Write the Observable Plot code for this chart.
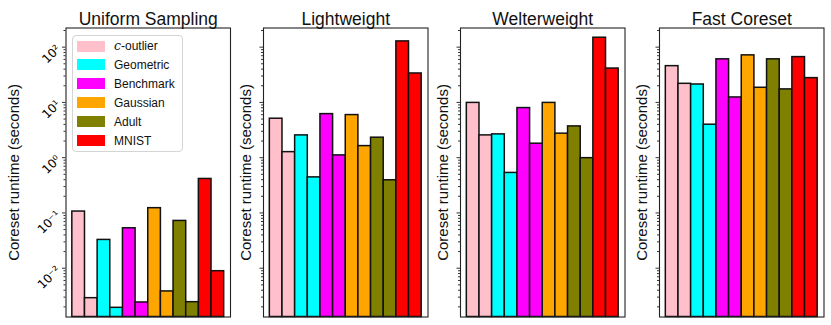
<!DOCTYPE html>
<html><head><meta charset="utf-8">
<script src="https://cdn.jsdelivr.net/npm/d3@7"></script>
<script src="https://cdn.jsdelivr.net/npm/@observablehq/plot@0.6"></script>
<style>
body{margin:0;background:#fff;font-family:"Liberation Sans",Arial,sans-serif}
#wrap{position:relative;width:831px;height:325px;overflow:hidden;background:#fff}
#wrap svg{position:absolute;top:0;background:transparent;overflow:visible}
.legend{position:absolute;left:71.5px;top:35px;width:111px;height:117px;border:1px solid #d4d4d4;border-radius:4px;background:rgba(255,255,255,0.85);box-sizing:border-box;font-size:12px;color:#111}
.legend .sw{position:absolute;left:4px;width:28px;height:11px}
.legend .lb{position:absolute;left:41.5px;line-height:14px}
.legend i{font-family:"DejaVu Serif","Liberation Serif",serif;font-size:12.5px}
.majors text{font-family:"DejaVu Sans",sans-serif}
</style></head>
<body>
<div id="wrap"></div>
<script>
// ---- data ----
const methods = ["Uniform Sampling", "Lightweight", "Welterweight", "Fast Coreset"];
const datasets = ["c-outlier", "Geometric", "Benchmark", "Gaussian", "Adult", "MNIST"];
const colors = ["#ffc0cb", "#00ffff", "#ff00ff", "#ffa500", "#808000", "#ff0000"];
// two bars per dataset (first, second), in dataset order
const uniformSampling = [0.106, 0.00287, 0.0325, 0.00192, 0.0528, 0.0024, 0.122, 0.0038, 0.0717, 0.00243, 0.412, 0.00883];
const lightweight     = [5.07, 1.26, 2.53, 0.44, 6.14, 1.10, 5.9, 1.62, 2.3, 0.39, 127, 33.4];
const welterweight    = [9.8, 2.53, 2.64, 0.53, 7.9, 1.79, 9.8, 2.72, 3.68, 0.98, 148, 41];
const fastCoreset     = [45.3, 21.7, 21.1, 3.95, 60.2, 12.3, 71, 18.4, 60.2, 17.2, 66, 27.5];
const majorTicks = [0.01, 0.1, 1, 10, 100];
const tickLabels = ["10\u207B\u00B2", "10\u207B\u00B9", "10\u2070", "10\u00B9", "10\u00B2"];
const yLabel = "Coreset runtime (seconds)";

// ---- layout ----
const series = [uniformSampling, lightweight, welterweight, fastCoreset];
const yDomain = [0.00131, 222];
const minorTicks = [];
for (let e = -3; e <= 2; e++) for (let m = 2; m <= 9; m++) {
  const v = m * Math.pow(10, e);
  if (v > yDomain[0] && v < yDomain[1]) minorTicks.push(v);
}
const panelLefts = [65.5, 262.5, 460, 658.5];
const panelWidth = 164.5;
const wrap = document.getElementById("wrap");

methods.forEach((title, p) => {
  const rows = series[p].map((v, i) => ({slot: i, dataset: datasets[Math.floor(i / 2)], value: v}));
  const ML = p === 0 ? 65.5 : 40;
  const MR = 4;
  const labelDx = p === 0 ? 52 : 17.5;
  const chart = Plot.plot({
    width: ML + panelWidth + MR,
    height: 325,
    marginLeft: ML, marginRight: MR, marginTop: 27.5, marginBottom: 8.5,
    style: {background: "transparent", fontFamily: "Liberation Sans, Arial, sans-serif", color: "#000", overflow: "visible"},
    x: {type: "band", domain: d3.range(12), paddingInner: 0, paddingOuter: 0.5, axis: null, round: false},
    y: {type: "log", domain: yDomain, axis: null},
    color: {domain: datasets, range: colors},
    marks: [
      Plot.barY(rows, {x: "slot", y1: yDomain[0], y2: "value", fill: "dataset", stroke: "#111", strokeWidth: 1.5, inset: 0}),
      Plot.frame({stroke: "#222", strokeWidth: 1.1}),
      Plot.axisY({ticks: minorTicks, tickSize: 2, tickFormat: () => "", label: null, stroke: "#333"}),
      Plot.axisY({ticks: majorTicks, tickSize: 3.5, tickPadding: 4, tickRotate: -45, fontSize: 12, label: null, className: "majors",
        tickFormat: p === 0 ? (d => tickLabels[majorTicks.indexOf(d)]) : (() => ""), stroke: "#333"}),
      Plot.text([title], {frameAnchor: "top", dy: -15, fontSize: 17.5, fill: "#111"}),
      Plot.text([yLabel], {frameAnchor: "left", textAnchor: "middle", dx: -labelDx, rotate: -90, fontSize: 15, fill: "#111"})
    ]
  });
  chart.style.left = (panelLefts[p] - ML) + "px";
  chart.querySelectorAll("g[aria-label='y-axis tick label'] text").forEach(t => t.style.fontFamily = "DejaVu Sans, sans-serif");
  wrap.appendChild(chart);
});

// legend
const lg = document.createElement("div");
lg.className = "legend";
datasets.forEach((name, i) => {
  const top = 4.5 + i * 18.95;
  const sw = document.createElement("div");
  sw.className = "sw";
  sw.style.top = top + "px";
  sw.style.background = colors[i];
  lg.appendChild(sw);
  const lb = document.createElement("div");
  lb.className = "lb";
  lb.style.top = (top - 1.5) + "px";
  if (name === "c-outlier") {
    const it = document.createElement("i");
    it.textContent = "c";
    lb.appendChild(it);
    lb.appendChild(document.createTextNode("-outlier"));
  } else {
    lb.textContent = name;
  }
  lg.appendChild(lb);
});
wrap.appendChild(lg);
</script>
</body></html>
